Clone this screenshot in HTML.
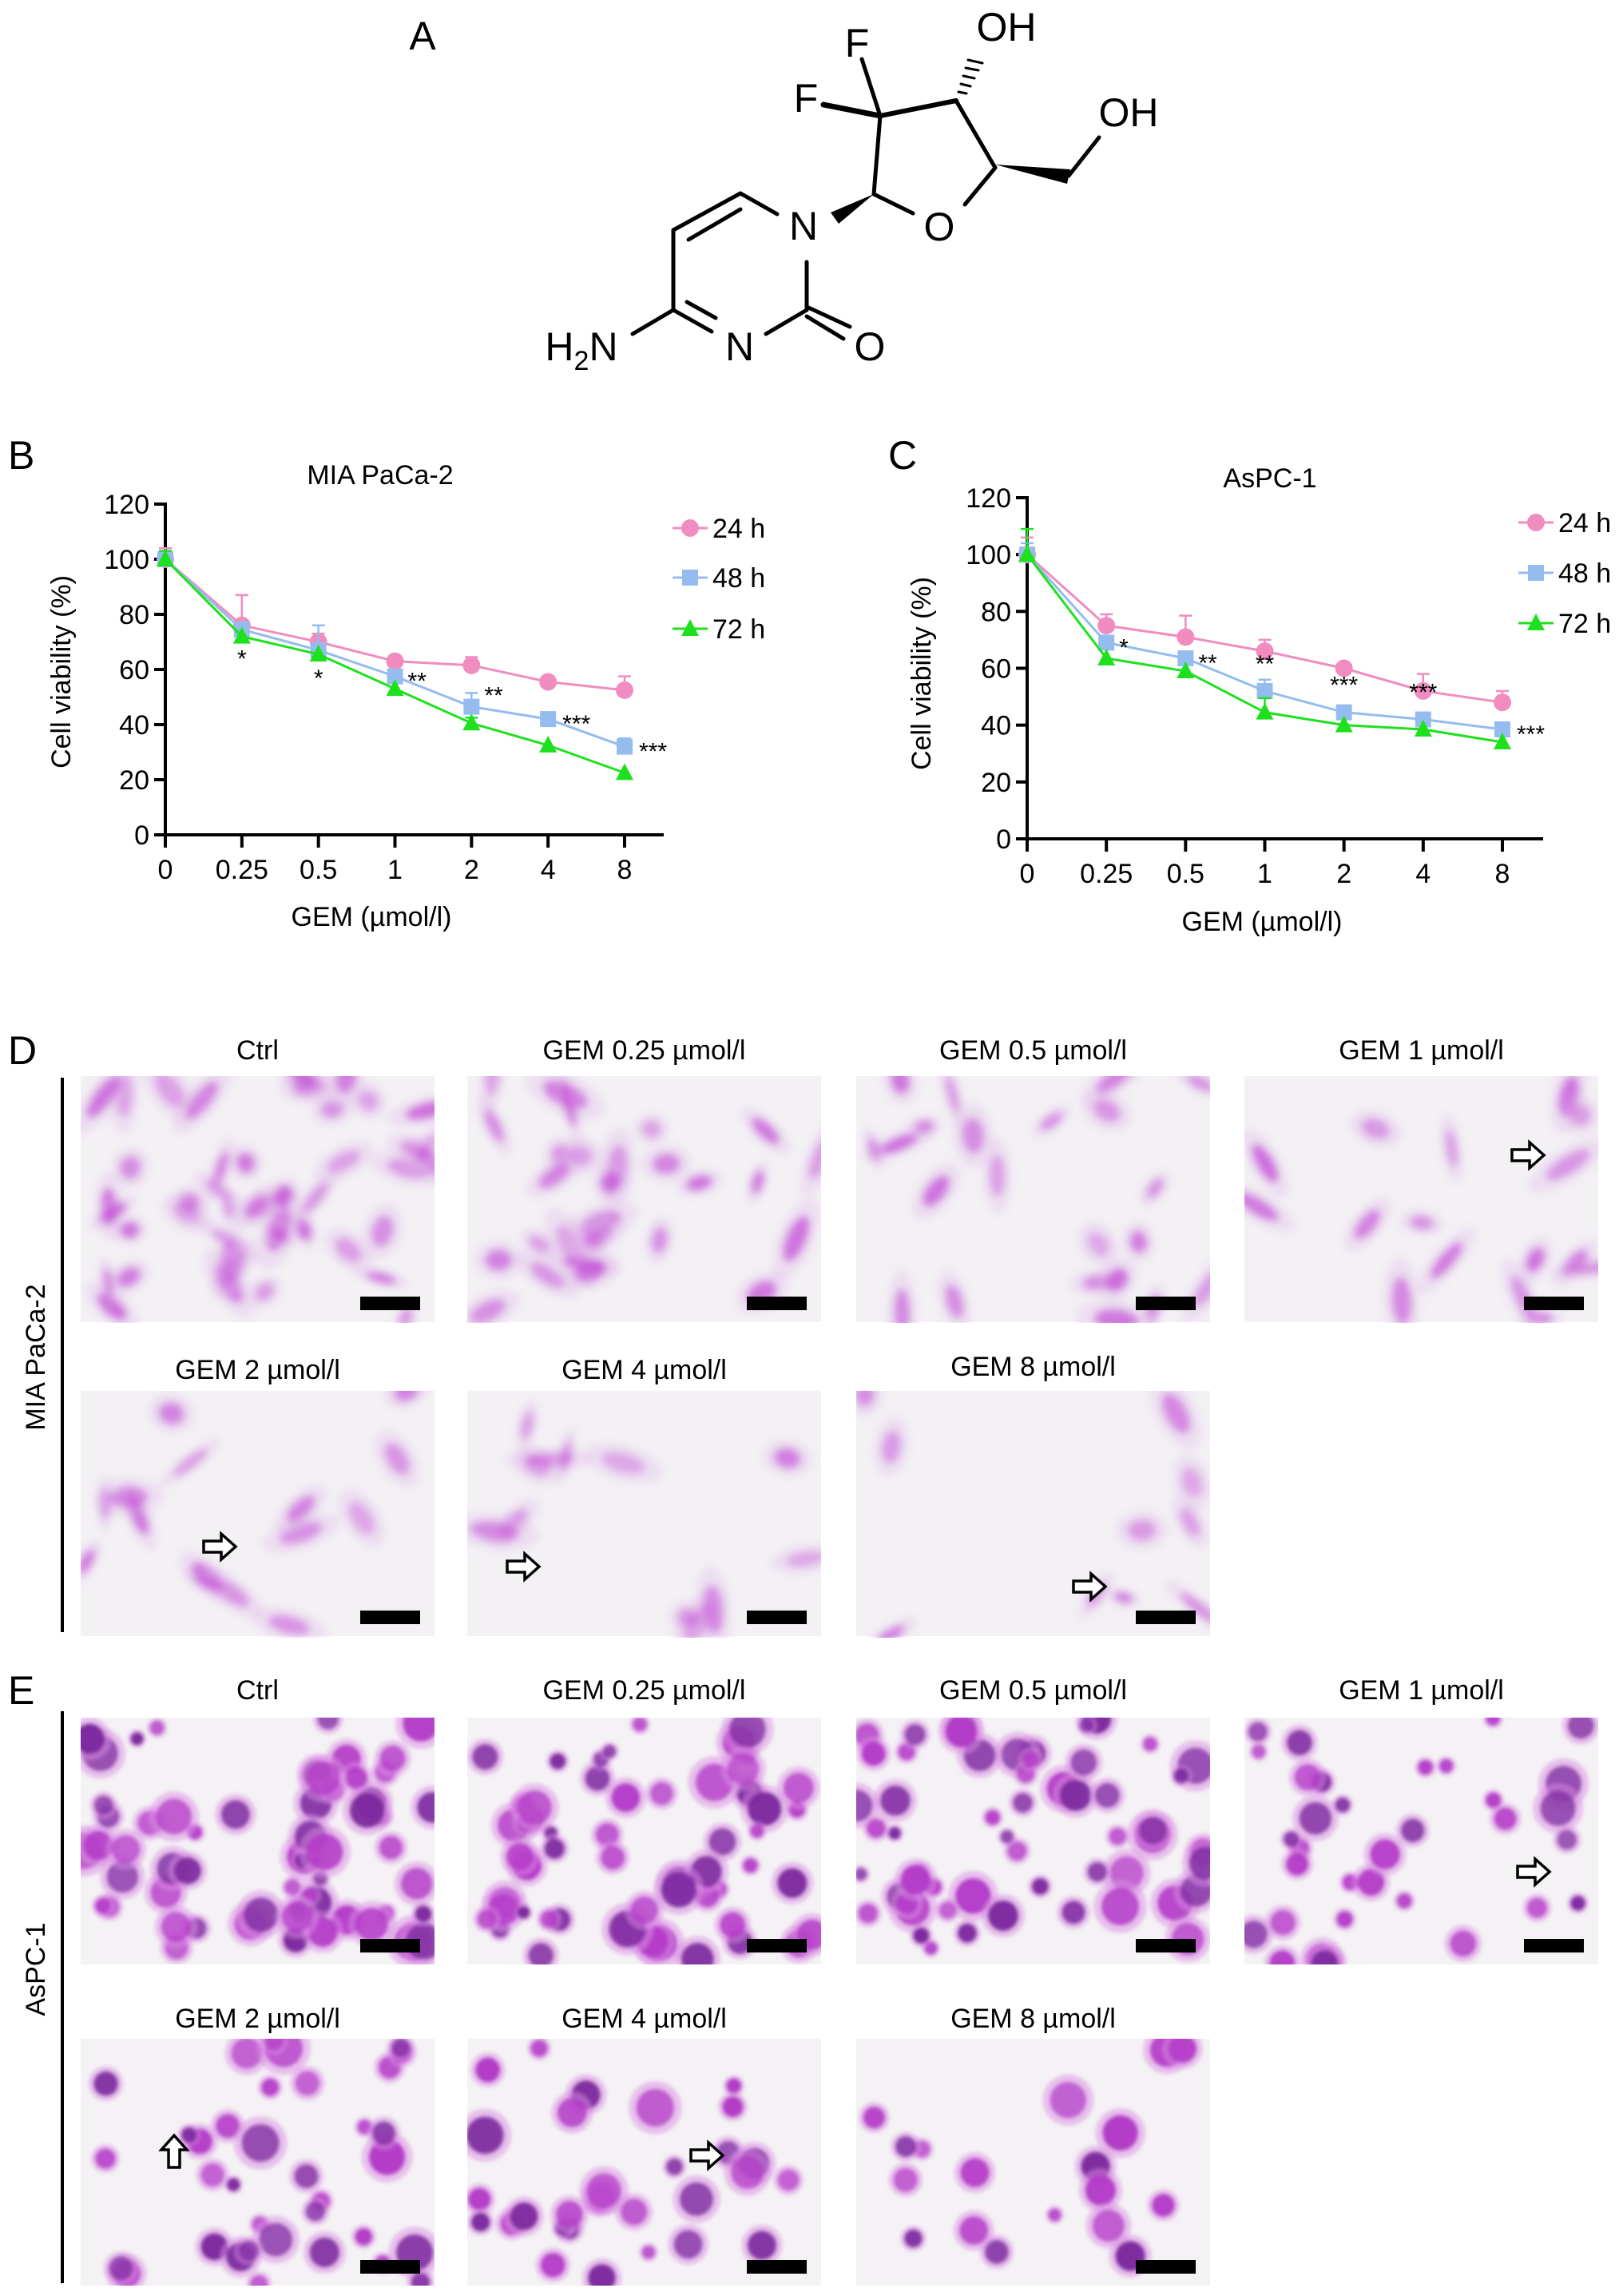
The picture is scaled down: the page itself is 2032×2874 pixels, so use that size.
<!DOCTYPE html>
<html><head><meta charset="utf-8">
<style>
html,body{margin:0;padding:0;background:#fff;}
svg{display:block;font-family:"Liberation Sans",Arial,sans-serif;}
</style></head>
<body>
<svg id="fig" width="2032" height="2874" viewBox="0 0 2032 2874" xmlns="http://www.w3.org/2000/svg">
<defs>
<filter id="blurD" x="-50%" y="-50%" width="200%" height="200%"><feGaussianBlur stdDeviation="5"/></filter>
<filter id="blurE" x="-50%" y="-50%" width="200%" height="200%"><feGaussianBlur stdDeviation="2.5"/></filter>
<clipPath id="pc"><rect x="0" y="0" width="443" height="309"/></clipPath>
</defs>

<!-- Panel A: chemical structure -->
<g id="panelA" stroke="#000" stroke-width="5" fill="none" stroke-linecap="round">
  <text x="529" y="62" font-size="50" fill="#000" stroke="none" text-anchor="middle">A</text>
  <line x1="1094" y1="243" x2="1102" y2="145"/>
  <line x1="1102" y1="145" x2="1079" y2="74"/>
  <line x1="1102" y1="145" x2="1031" y2="131" stroke-width="7"/>
  <line x1="1102" y1="145" x2="1197" y2="126" stroke-width="6"/>
  <line x1="1197" y1="126" x2="1246" y2="210"/>
  <line x1="1246" y1="210" x2="1208" y2="256"/>
  <line x1="1094" y1="243" x2="1143" y2="267"/>
  <polygon points="1246,206 1340,212 1336,230" fill="#000" stroke="none"/>
  <line x1="1338" y1="220" x2="1376" y2="172"/>
  <polygon points="1094,243 1040,266 1050,280" fill="#000" stroke="none"/>
  <g stroke-width="3">
    <line x1="1200" y1="115" x2="1210" y2="117"/><line x1="1203" y1="105" x2="1215" y2="108"/>
    <line x1="1206" y1="95" x2="1220" y2="98"/><line x1="1209" y1="85" x2="1225" y2="88"/>
    <line x1="1212" y1="75" x2="1230" y2="79"/>
  </g>
  <line x1="973" y1="268" x2="927" y2="242"/>
  <line x1="927" y1="242" x2="843" y2="288"/>
  <line x1="927" y1="262" x2="862" y2="300"/>
  <line x1="843" y1="288" x2="843" y2="388"/>
  <line x1="843" y1="388" x2="891" y2="415"/>
  <line x1="860" y1="378" x2="896" y2="398"/>
  <line x1="843" y1="388" x2="792" y2="418"/>
  <line x1="959" y1="418" x2="1010" y2="388"/>
  <line x1="1010" y1="328" x2="1010" y2="388"/>
  <line x1="1010" y1="384" x2="1064" y2="409"/>
  <line x1="1010" y1="396" x2="1056" y2="424"/>
  <g fill="#000" stroke="none" font-size="50" text-anchor="middle">
    <text x="1073" y="71">F</text>
    <text x="1009" y="140">F</text>
    <text x="1260" y="51">OH</text>
    <text x="1413" y="158">OH</text>
    <text x="1006" y="300">N</text>
    <text x="1176" y="301">O</text>
    <text x="926" y="451">N</text>
    <text x="1089" y="451">O</text>
    <text x="728" y="451">H<tspan font-size="34" dy="12">2</tspan><tspan dy="-12">N</tspan></text>
  </g>
</g>

<g id="chartB"></g>
<g id="chartC"></g>
<g id="micro"></g>
</svg>

<script>
// ---- Chart data ----
const doses = ['0','0.25','0.5','1','2','4','8'];
const yTicks = [0,20,40,60,80,100,120];
const seriesNames = ['24 h','48 h','72 h'];
// MIA PaCa-2
const b24 = [100,76,70,63,61.5,55.5,52.5];
const b24err = [4,11,3,1,3,2,5];
const b48 = [100,74.5,67,57.5,46.5,42,32];
const b48err = [3,1,9,1,5,1,3];
const b72 = [100,72,65.5,53,40.5,32.5,22.5];
const b72err = [3,1,1,1,2,1,1];
const bStars = ['','*','*','**','**','***','***'];
// AsPC-1
const c24 = [100,75,71,66,60,52,48];
const c24err = [6,4,7.5,4,1,6,4];
const c48 = [100,69,63.5,52,44.5,42,38.5];
const c48err = [4,1,1,4,1,1,1];
const c72 = [100,63.5,59,44.5,40,38.5,34];
const c72err = [9,1,1,5,1,1,1];
const cStars = ['','*','**','**','***','***','***'];

const NS='http://www.w3.org/2000/svg';
function mk(tag,attrs,parent){const e=document.createElementNS(NS,tag);for(const k in attrs)e.setAttribute(k,attrs[k]);if(parent)parent.appendChild(e);return e;}

const colors=['#f08cc0','#94bcef','#1fe01f'];

function drawChart(g,cfg){
  const xs=i=>cfg.x0+(cfg.x8-cfg.x0)*i/(doses.length-1);
  const ys=v=>cfg.y0+(cfg.y120-cfg.y0)*v/120;
  const ya=mk('line',{x1:cfg.x0,y1:cfg.y120-2,x2:cfg.x0,y2:cfg.y0+2,stroke:'#000','stroke-width':4},g);
  
  
  const xa=mk('line',{x1:cfg.x0-14,y1:cfg.y0,x2:cfg.xEnd,y2:cfg.y0,stroke:'#000','stroke-width':4},g);
  
  
  yTicks.forEach(v=>{
    mk('line',{x1:cfg.x0-14,y1:ys(v),x2:cfg.x0,y2:ys(v),stroke:'#000','stroke-width':4},g);
    const t=mk('text',{x:cfg.x0-20,y:ys(v)+12,'font-size':34,'text-anchor':'end'},g);
    t.textContent=v;
    
    
  });
  doses.forEach((d,i)=>{
    mk('line',{x1:xs(i),y1:cfg.y0,x2:xs(i),y2:cfg.y0+16,stroke:'#000','stroke-width':4},g);
    const t=mk('text',{x:xs(i),y:cfg.y0+55,'font-size':34,'text-anchor':'middle'},g);
    t.textContent=d;
    
    
  });
  const tt=mk('text',{x:cfg.titleX,y:cfg.titleY,'font-size':34,'text-anchor':'middle'},g);
  tt.textContent=cfg.title;
  
  
  const xt=mk('text',{x:cfg.xtX,y:cfg.xtY,'font-size':34,'text-anchor':'middle'},g);
  xt.textContent='GEM (\u00b5mol/l)';
  
  
  const yt=mk('text',{x:0,y:0,'font-size':34,'text-anchor':'middle',transform:`translate(${cfg.ytX},${cfg.ytY}) rotate(-90)`},g);
  yt.textContent='Cell viability (%)';
  
  
  const pl=mk('text',{x:cfg.letterX,y:cfg.letterY,'font-size':50},g);
  pl.textContent=cfg.letter;
  
  
  cfg.series.forEach((s,si)=>{
    const col=colors[si];
    const sg=mk('g',{},g);
    
    
    s.vals.forEach((v,i)=>{
      const e=s.err[i];
      if(e>1.5){
        mk('line',{x1:xs(i),y1:ys(v),x2:xs(i),y2:ys(v+e),stroke:col,'stroke-width':2.5},sg);
        mk('line',{x1:xs(i)-8,y1:ys(v+e),x2:xs(i)+8,y2:ys(v+e),stroke:col,'stroke-width':2.5},sg);
      }
    });
    const pts=s.vals.map((v,i)=>xs(i)+','+ys(v)).join(' ');
    const ln=mk('polyline',{points:pts,fill:'none',stroke:col,'stroke-width':3},sg);
    
    
    s.vals.forEach((v,i)=>{
      const m=marker(sg,si,xs(i),ys(v));
      
      
    });
  });
  cfg.stars.forEach((st,i)=>{
    if(!st)return;
    const pos=cfg.starPos[i];
    const ref=cfg.series[pos[0]].vals[i];
    const t=mk('text',{x:xs(i)+pos[1],y:ys(ref)+pos[2],'font-size':30,'text-anchor':pos[3]},g);
    t.textContent=st;
    
    
  });
  seriesNames.forEach((n,si)=>{
    const lg=mk('g',{},g);
    
    
    const y=cfg.legY[si];
    mk('line',{x1:cfg.legX-22,y1:y,x2:cfg.legX+22,y2:y,stroke:colors[si],'stroke-width':3},lg);
    marker(lg,si,cfg.legX,y);
    const t=mk('text',{x:cfg.legX+28,y:y+12,'font-size':34},lg);
    t.textContent=n;
  });
}
function marker(p,si,x,y){
  const c=colors[si];
  if(si===0)return mk('circle',{cx:x,cy:y,r:11,fill:c},p);
  if(si===1)return mk('rect',{x:x-10,y:y-10,width:20,height:20,fill:c},p);
  return mk('polygon',{points:`${x},${y-12} ${x+11},${y+9} ${x-11},${y+9}`,fill:c},p);
}

drawChart(document.getElementById('chartB'),{
  x0:207,x8:782,xEnd:831,y0:1045,y120:631,
  title:'MIA PaCa-2',titleX:476,titleY:606,xtX:465,xtY:1159,ytX:88,ytY:841,
  letter:'B',letterX:10,letterY:587,legX:864,legY:[661,723,787],
  series:[{vals:b24,err:b24err},{vals:b48,err:b48err},{vals:b72,err:b72err}],
  stars:bStars,
  starPos:[null,[2,0,38,'middle'],[2,0,40,'middle'],[1,16,16,'start'],[1,16,-4,'start'],[1,18,16,'start'],[1,18,16,'start']]
});
drawChart(document.getElementById('chartC'),{
  x0:1286,x8:1881,xEnd:1932,y0:1050,y120:623,
  title:'AsPC-1',titleX:1590,titleY:610,xtX:1580,xtY:1165,ytX:1165,ytY:843,
  letter:'C',letterX:1112,letterY:587,legX:1923,legY:[654,717,780],
  series:[{vals:c24,err:c24err},{vals:c48,err:c48err},{vals:c72,err:c72err}],
  stars:cStars,
  starPos:[null,[1,16,16,'start'],[1,16,16,'start'],[1,0,-24,'middle'],[1,0,-24,'middle'],[1,0,-24,'middle'],[1,18,16,'start']]
});

// ---- Micrographs (decorative) ----
const micro=document.getElementById('micro');
const colX=[101,585,1072,1558];
const labels=['Ctrl','GEM 0.25 \u00b5mol/l','GEM 0.5 \u00b5mol/l','GEM 1 \u00b5mol/l','GEM 2 \u00b5mol/l','GEM 4 \u00b5mol/l','GEM 8 \u00b5mol/l'];
function rng(seed){return function(){seed|=0;seed=seed+0x6D2B79F5|0;let t=Math.imul(seed^seed>>>15,1|seed);t=t+Math.imul(t^t>>>7,61|t)^t;return((t^t>>>14)>>>0)/4294967296;};}
const dCounts=[45,28,22,16,15,12,10];
const eCounts=[60,55,55,35,35,30,18];
function panel(x,y,w,h,type,idx,label,labelY){
  const g=mk('g',{transform:`translate(${x},${y})`},micro);
  
  
  mk('rect',{x:0,y:0,width:w,height:h,fill:type==='d'?'#f3f1f4':'#f4f2f4'},g);
  const inner=mk('g',{'clip-path':'url(#pc)'},g);
  const bl=mk('g',{filter:type==='d'?'url(#blurD)':'url(#blurE)'},inner);
  const r=rng(idx*97+(type==='d'?11:503));
  const n=type==='d'?dCounts[idx]:eCounts[idx];
  for(let k=0;k<n;k++){
    const cx=r()*w,cy=r()*h;
    if(type==='d'){
      const rx=12+r()*20,ry=6+r()*8,a=r()*180;
      mk('ellipse',{cx,cy,rx:rx*1.8,ry:ry*1.8,transform:`rotate(${a} ${cx} ${cy})`,fill:'#ddb2e8',opacity:0.3},bl);
      mk('ellipse',{cx,cy,rx,ry,transform:`rotate(${a} ${cx} ${cy})`,fill:'#c247d6',opacity:0.35+r()*0.4},bl);
    }else{
      const rr=8+r()*16;
      mk('circle',{cx,cy,r:rr*1.4,fill:'#dc8ee6',opacity:0.5},bl);
      mk('circle',{cx,cy,r:rr,fill:r()<0.4?'#7d2aa0':'#b43cc8',opacity:0.7+r()*0.3},bl);
    }
  }
  const sb=mk('rect',{x:w-93,y:h-32,width:75,height:17,fill:'#000'},g);
  
  
  const t=mk('text',{x:x+w/2,y:labelY,'font-size':34,'text-anchor':'middle'},micro);
  t.textContent=label;
  
  
}
const W=443;
for(let i=0;i<7;i++){
  const row=i<4?0:1,col=i<4?i:i-4;
  panel(colX[col],row?1741:1347,W,row?307:308,'d',i,labels[i],row?(i===6?1722:1726):1326);
}
for(let i=0;i<7;i++){
  const row=i<4?0:1,col=i<4?i:i-4;
  panel(colX[col],row?2552:2150,W,309,'e',i,labels[i],row?2538:2127);
}
function sideLabel(text,ly1,ly2,tx,ty,letter,lY){
  const l=mk('line',{x1:78,y1:ly1,x2:78,y2:ly2,stroke:'#000','stroke-width':4},micro);
  
  
  const t=mk('text',{x:0,y:0,'font-size':34,'text-anchor':'middle',transform:`translate(${tx},${ty}) rotate(-90)`},micro);
  t.textContent=text;
  
  
  const L=mk('text',{x:10,y:lY,'font-size':50},micro);
  L.textContent=letter;
  
  
}
sideLabel('MIA PaCa-2',1349,2043,56,1699,'D',1332);
sideLabel('AsPC-1',2142,2858,56,2465,'E',2133);
const arrowPts=[[1913,1446,0],[275,1936,0],[655,1961,0],[1364,1986,0],[1920,2343,0],[218,2693,-90],[885,2698,0]];
arrowPts.forEach(a=>{
  const p=mk('polygon',{points:'-20,-7 2,-7 2,-16 20,0 2,16 2,7 -20,7',fill:'#fff',stroke:'#000','stroke-width':3.5,transform:`translate(${a[0]},${a[1]}) rotate(${a[2]})`},micro);
  
  
});
</script>
</body></html>
